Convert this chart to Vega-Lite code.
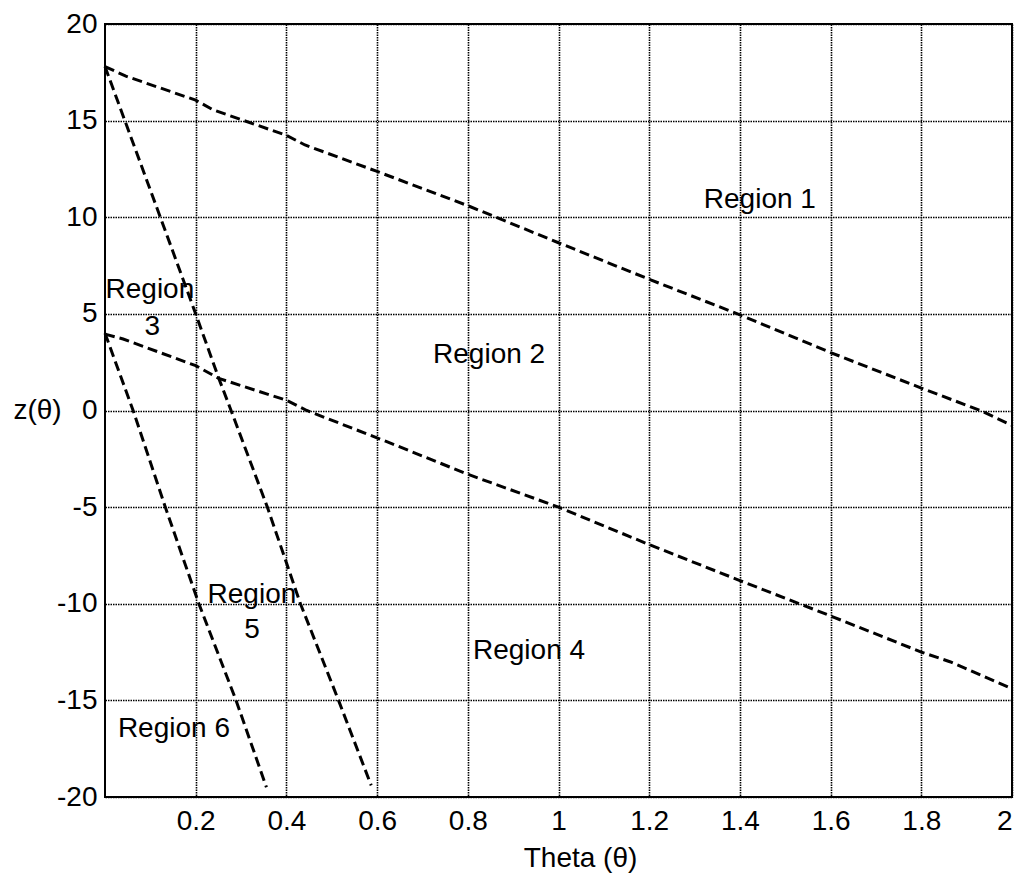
{
  "$schema": "https://vega.github.io/schema/vega-lite/v6.json",
  "width": 907,
  "height": 773,
  "autosize": {"type": "none"},
  "padding": {"left": 105, "top": 24, "right": 11, "bottom": 77},
  "background": "white",
  "config": {
    "font": "Liberation Sans",
    "view": {"stroke": "black", "strokeWidth": 2},
    "axis": {
      "labelFont": "Liberation Sans",
      "titleFont": "Liberation Sans",
      "labelColor": "black",
      "titleColor": "black",
      "labelFontSize": 28,
      "titleFontSize": 28,
      "titleFontWeight": "normal",
      "grid": true,
      "gridColor": "black",
      "gridDash": [1.5, 1],
      "gridWidth": 1.6,
      "gridOpacity": 1,
      "ticks": false,
      "domain": false
    }
  },
  "datasets": {
    "lines": [
      {"series": "a", "i": 0, "theta": 0, "z": 17.8},
      {"series": "a", "i": 1, "theta": 0.046, "z": 17.3},
      {"series": "a", "i": 2, "theta": 0.2, "z": 16.06},
      {"series": "a", "i": 3, "theta": 0.238, "z": 15.56},
      {"series": "a", "i": 4, "theta": 0.4, "z": 14.24},
      {"series": "a", "i": 5, "theta": 0.441, "z": 13.74},
      {"series": "a", "i": 6, "theta": 0.6, "z": 12.37},
      {"series": "a", "i": 7, "theta": 0.8, "z": 10.6},
      {"series": "a", "i": 8, "theta": 1.0, "z": 8.68},
      {"series": "a", "i": 9, "theta": 1.2, "z": 6.79},
      {"series": "a", "i": 10, "theta": 1.4, "z": 4.95},
      {"series": "a", "i": 11, "theta": 1.6, "z": 3.0},
      {"series": "a", "i": 12, "theta": 1.8, "z": 1.16},
      {"series": "a", "i": 13, "theta": 1.93, "z": 0},
      {"series": "a", "i": 14, "theta": 2.0, "z": -0.77},
      {"series": "b", "i": 0, "theta": 0, "z": 3.95},
      {"series": "b", "i": 1, "theta": 0.04, "z": 3.7},
      {"series": "b", "i": 2, "theta": 0.2, "z": 2.32},
      {"series": "b", "i": 3, "theta": 0.251, "z": 1.66},
      {"series": "b", "i": 4, "theta": 0.4, "z": 0.53},
      {"series": "b", "i": 5, "theta": 0.445, "z": 0},
      {"series": "b", "i": 6, "theta": 0.62, "z": -1.6},
      {"series": "b", "i": 7, "theta": 0.8, "z": -3.3},
      {"series": "b", "i": 8, "theta": 1.0, "z": -5.0},
      {"series": "b", "i": 9, "theta": 1.2, "z": -6.94},
      {"series": "b", "i": 10, "theta": 1.4, "z": -8.8},
      {"series": "b", "i": 11, "theta": 1.6, "z": -10.63},
      {"series": "b", "i": 12, "theta": 1.8, "z": -12.5},
      {"series": "b", "i": 13, "theta": 1.863, "z": -13.0},
      {"series": "b", "i": 14, "theta": 2.0, "z": -14.4},
      {"series": "c", "i": 0, "theta": 0, "z": 17.8},
      {"series": "c", "i": 1, "theta": 0.122, "z": 10},
      {"series": "c", "i": 2, "theta": 0.2, "z": 5},
      {"series": "c", "i": 3, "theta": 0.251, "z": 1.66},
      {"series": "c", "i": 4, "theta": 0.278, "z": 0},
      {"series": "c", "i": 5, "theta": 0.358, "z": -5},
      {"series": "c", "i": 6, "theta": 0.431, "z": -10},
      {"series": "c", "i": 7, "theta": 0.515, "z": -15},
      {"series": "c", "i": 8, "theta": 0.587, "z": -19.4},
      {"series": "d", "i": 0, "theta": 0, "z": 4},
      {"series": "d", "i": 1, "theta": 0.062, "z": 0},
      {"series": "d", "i": 2, "theta": 0.133, "z": -5},
      {"series": "d", "i": 3, "theta": 0.207, "z": -10},
      {"series": "d", "i": 4, "theta": 0.289, "z": -15},
      {"series": "d", "i": 5, "theta": 0.356, "z": -19.5}
    ],
    "labels": [
      {"text": "Region 1", "theta": 1.444, "z": 10.48},
      {"text": "Region 2", "theta": 0.847, "z": 2.46},
      {"text": "Region", "theta": 0.099, "z": 5.82},
      {"text": "3", "theta": 0.104, "z": 3.91},
      {"text": "Region 4", "theta": 0.935, "z": -12.86},
      {"text": "Region", "theta": 0.324, "z": -9.96},
      {"text": "5", "theta": 0.324, "z": -11.77},
      {"text": "Region 6", "theta": 0.152, "z": -16.9}
    ]
  },
  "encoding": {
    "x": {
      "field": "theta",
      "type": "quantitative",
      "scale": {"domain": [0, 2], "nice": false, "zero": false},
      "axis": {
        "title": "Theta (θ)",
        "values": [0.2, 0.4, 0.6, 0.8, 1, 1.2, 1.4, 1.6, 1.8, 2],
        "format": "~g",
        "labelPadding": 10,
        "titleX": 475,
        "titleY": 61,
        "titleBaseline": "middle",
        "titleAlign": "center"
      }
    },
    "y": {
      "field": "z",
      "type": "quantitative",
      "scale": {"domain": [-20, 20], "nice": false, "zero": false},
      "axis": {
        "title": "z(θ)",
        "values": [-20, -15, -10, -5, 0, 5, 10, 15, 20],
        "labelExpr": "datum.value < 0 ? '-' + abs(datum.value) : '' + datum.value",
        "labelPadding": 8,
        "titleAngle": 0,
        "titleX": -68,
        "titleY": 386,
        "titleAlign": "center",
        "titleBaseline": "middle"
      }
    }
  },
  "layer": [
    {
      "mark": {"type": "rule", "color": "black", "strokeWidth": 2},
      "encoding": {"y": {"datum": 0, "type": "quantitative"}, "x": null}
    },
    {
      "data": {"name": "lines"},
      "mark": {"type": "line", "color": "black", "strokeWidth": 3, "strokeDash": [10, 5]},
      "encoding": {
        "detail": {"field": "series", "type": "nominal"},
        "order": {"field": "i", "type": "quantitative"}
      }
    },
    {
      "data": {"name": "labels"},
      "mark": {"type": "text", "fontSize": 28, "color": "black", "align": "center", "baseline": "alphabetic", "font": "Liberation Sans"},
      "encoding": {"text": {"field": "text", "type": "nominal"}}
    }
  ]
}
